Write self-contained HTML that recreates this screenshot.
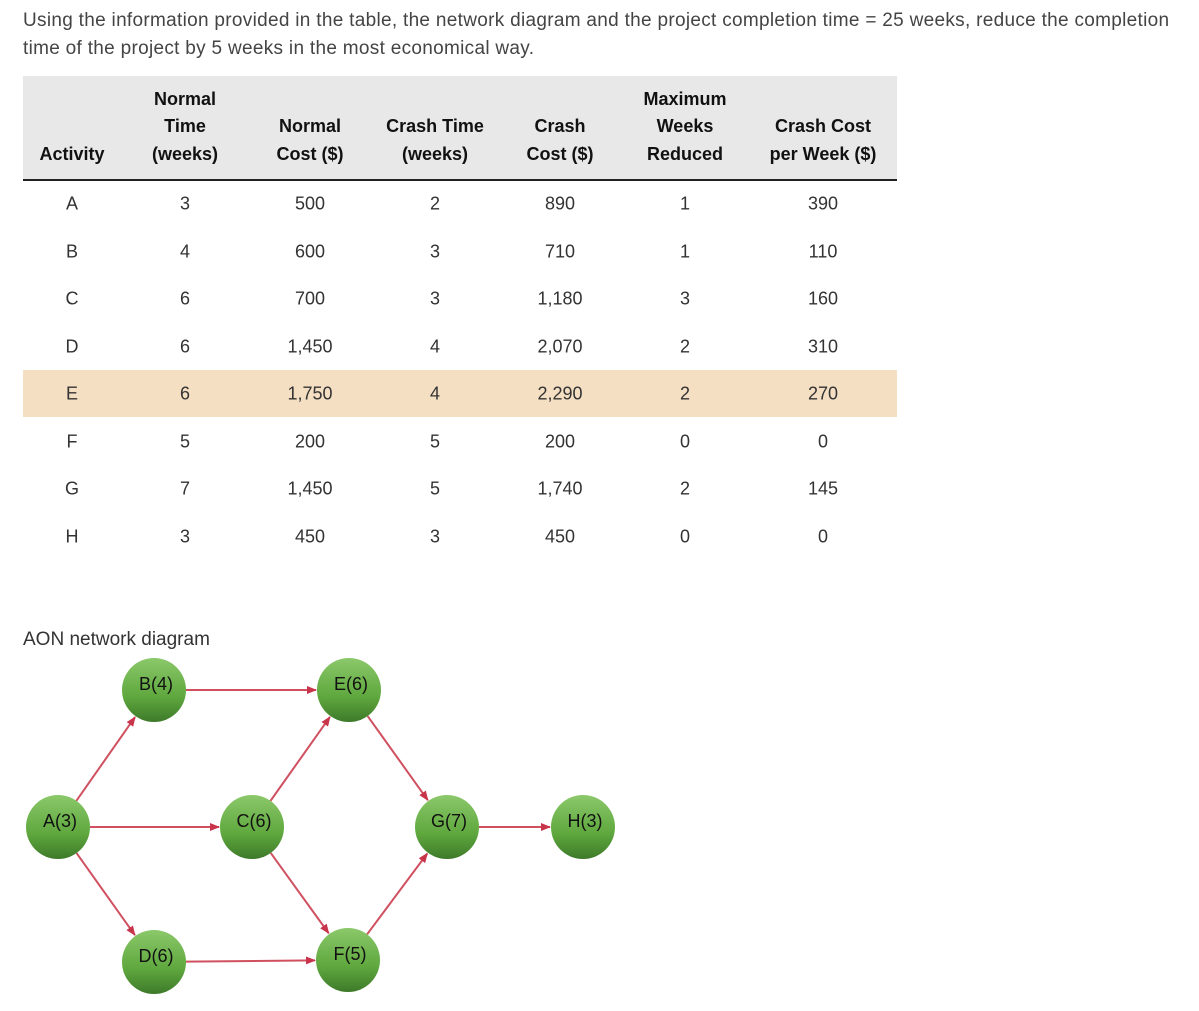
<!DOCTYPE html>
<html><head><meta charset="utf-8"><style>
body{margin:0;width:1199px;height:1011px;background:#fff;font-family:"Liberation Sans",sans-serif;color:#333;position:relative;overflow:hidden}
.q{position:absolute;left:23px;top:7px;font-size:19px;letter-spacing:0.3px;line-height:28px;color:#444;width:1176px;white-space:nowrap}
.hdr{position:absolute;left:23px;top:76px;width:874px;height:103px;background:#e8e8e8;border-bottom:2px solid #222}
.hl{position:absolute;left:23px;top:370px;width:874px;height:47px;background:#f5dfc3}
.h{position:absolute;font-weight:bold;font-size:18px;line-height:27.5px;text-align:center;color:#111;transform:translateX(-50%);white-space:nowrap}
.c{position:absolute;font-size:18px;transform:translate(-50%,-50%);color:#333}
.cap{position:absolute;left:23px;top:629px;font-size:19px;color:#333}
</style></head><body>
<div class="q">Using the information provided in the table, the network diagram and the project completion time = 25 weeks, reduce the completion<br>time of the project by 5 weeks in the most economical way.</div>
<div class="hdr"></div>
<div class="hl"></div>
<div id="tbl"></div>
<div class="cap">AON network diagram</div>
<svg id="net" width="1199" height="1011" style="position:absolute;left:0;top:0">
<defs>
<linearGradient id="g" x1="0" y1="0" x2="0" y2="1"><stop offset="0" stop-color="#8bc86a"/><stop offset="0.6" stop-color="#5fa83e"/><stop offset="1" stop-color="#3e7a2a"/></linearGradient>
<marker id="ar" markerWidth="10" markerHeight="10" refX="9" refY="5" orient="auto" markerUnits="userSpaceOnUse"><path d="M0,1 L10,5 L0,9 Z" fill="#c8344a"/></marker>
</defs>
</svg>
<script>
const headers=[["Activity"],["Normal","Time","(weeks)"],["Normal","Cost ($)"],["Crash Time","(weeks)"],["Crash","Cost ($)"],["Maximum","Weeks","Reduced"],["Crash Cost","per Week ($)"]];
const colX=[72,185,310,435,560,685,823];
const rows=[["A","3","500","2","890","1","390"],["B","4","600","3","710","1","110"],["C","6","700","3","1,180","3","160"],["D","6","1,450","4","2,070","2","310"],["E","6","1,750","4","2,290","2","270"],["F","5","200","5","200","0","0"],["G","7","1,450","5","1,740","2","145"],["H","3","450","3","450","0","0"]];
const tbl=document.getElementById('tbl');
headers.forEach((h,i)=>{const d=document.createElement('div');d.className='h';d.style.left=colX[i]+'px';d.style.top=(168-h.length*27.5)+'px';d.innerHTML=h.join('<br>');


tbl.appendChild(d);});
rows.forEach((r,ri)=>r.forEach((v,ci)=>{const d=document.createElement('div');d.className='c';d.style.left=colX[ci]+'px';d.style.top=(204+ri*47.5)+'px';d.textContent=v;


tbl.appendChild(d);}));
const nodes={A:[58,827,3],B:[154,690,4],C:[252,827,6],D:[154,962,6],E:[349,690,6],F:[348,960,5],G:[447,827,7],H:[583,827,3]};
const edges=[["A","B"],["A","C"],["A","D"],["B","E"],["C","E"],["C","F"],["D","F"],["E","G"],["F","G"],["G","H"]];
const svg=document.getElementById('net');const NS='http://www.w3.org/2000/svg';const R=32;
edges.forEach(([a,b])=>{const[x1,y1]=nodes[a],[x2,y2]=nodes[b];const dx=x2-x1,dy=y2-y1,L=Math.hypot(dx,dy);
const l=document.createElementNS(NS,'line');l.setAttribute('x1',x1+dx/L*R);l.setAttribute('y1',y1+dy/L*R);l.setAttribute('x2',x2-dx/L*(R+1));l.setAttribute('y2',y2-dy/L*(R+1));
l.setAttribute('stroke','#d05060');l.setAttribute('stroke-width','2');l.setAttribute('marker-end','url(#ar)');


svg.appendChild(l);});
Object.entries(nodes).forEach(([k,[x,y,t]])=>{const c=document.createElementNS(NS,'circle');c.setAttribute('cx',x);c.setAttribute('cy',y);c.setAttribute('r',R);c.setAttribute('fill','url(#g)');


svg.appendChild(c);
const tx=document.createElementNS(NS,'text');tx.setAttribute('x',x+2);tx.setAttribute('y',y);tx.setAttribute('text-anchor','middle');tx.setAttribute('font-size','18');tx.setAttribute('fill','#111');tx.setAttribute('font-family','Liberation Sans, sans-serif');tx.textContent=k+'('+t+')';


svg.appendChild(tx);});
</script>
</body></html>
